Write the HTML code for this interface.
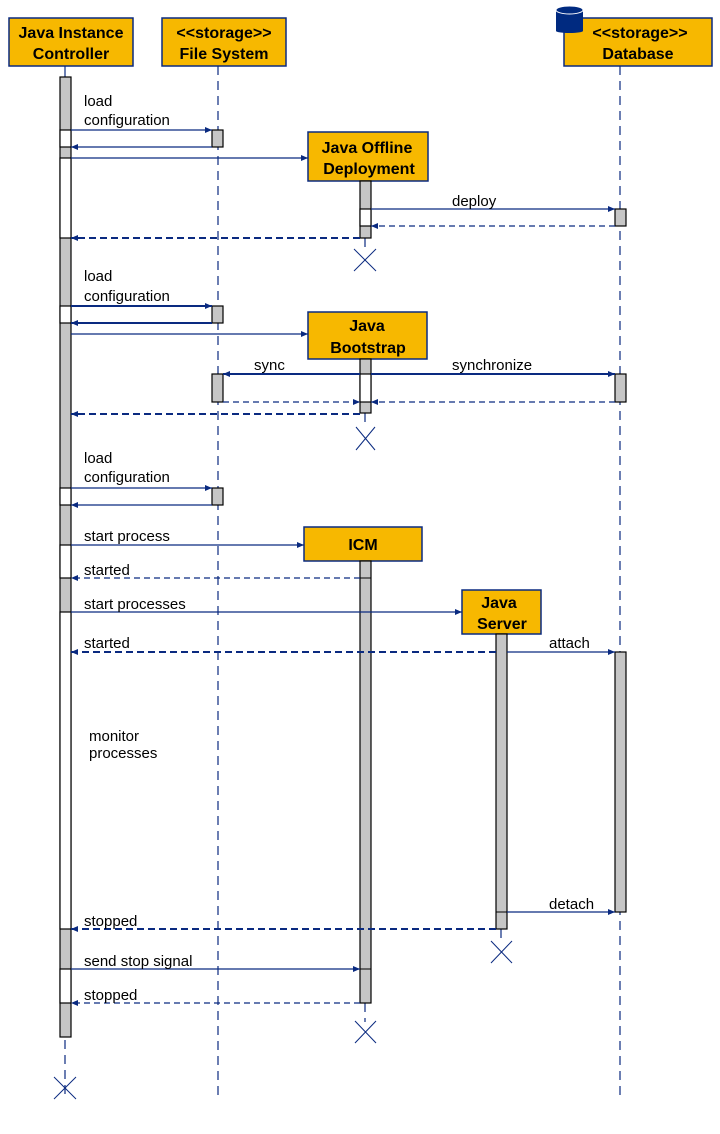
<!DOCTYPE html>
<html><head><meta charset="utf-8"><style>
html,body{margin:0;padding:0;background:#fff;}
svg{display:block;font-family:"Liberation Sans",Arial,sans-serif;}
.h{font-weight:bold;font-size:16px;text-anchor:middle;fill:#000;}
.l{font-size:15px;fill:#000;}
.box{fill:#f7b800;stroke:#0a2a80;stroke-width:1.5;}
.ll{stroke:#0a2a80;stroke-width:1.2;stroke-dasharray:9,6;fill:none;}
.ag{fill:#c6c6c6;stroke:#000;stroke-width:1.2;}
.aw{fill:#fff;stroke:#000;stroke-width:1.2;}
.m{stroke:#0a2a80;stroke-width:1.3;fill:none;}
.mt{stroke:#0a2a80;stroke-width:2;fill:none;}
.d{stroke:#0a2a80;stroke-width:1.3;stroke-dasharray:6,4;fill:none;}
.dt{stroke:#0a2a80;stroke-width:2;stroke-dasharray:7,4;fill:none;}
.x{stroke:#0a2a80;stroke-width:1;}
</style></head><body>
<svg width="720" height="1134" viewBox="0 0 720 1134" xmlns="http://www.w3.org/2000/svg">
<defs>
<marker id="a" markerWidth="8" markerHeight="8" refX="7" refY="4" orient="auto" markerUnits="userSpaceOnUse"><path d="M0,1 L7,4 L0,7 z" fill="#0a2a80"/></marker>
</defs>
<!-- lifelines -->
<line class="ll" x1="65" y1="1040" x2="65" y2="1100"/>
<line x1="65" y1="66" x2="65" y2="77" stroke="#0a2a80" stroke-width="1.2"/>
<line class="ll" x1="218" y1="66" x2="218" y2="1100"/>
<line class="ll" x1="620" y1="66" x2="620" y2="1100"/>
<line class="ll" x1="365" y1="238" x2="365" y2="250"/>
<line class="ll" x1="365" y1="413" x2="365" y2="428"/>
<line class="ll" x1="365" y1="1003" x2="365" y2="1022"/>
<line class="ll" x1="501" y1="929" x2="501" y2="944"/>

<!-- headers -->
<rect class="box" x="9" y="18" width="124" height="48"/>
<text class="h" x="71" y="38">Java Instance</text><text class="h" x="71" y="59">Controller</text>
<rect class="box" x="162" y="18" width="124" height="48"/>
<text class="h" x="224" y="38">&lt;&lt;storage&gt;&gt;</text><text class="h" x="224" y="59">File System</text>
<rect class="box" x="564" y="18" width="148" height="48"/>
<text class="h" x="640" y="38">&lt;&lt;storage&gt;&gt;</text><text class="h" x="638" y="59">Database</text>
<rect x="556" y="10" width="27" height="21" fill="#002a80"/>
<ellipse cx="569.5" cy="31" rx="13.5" ry="2" fill="#002a80"/>
<ellipse cx="569.5" cy="10" rx="13.5" ry="4" fill="#002a80" stroke="#fff" stroke-width="1"/>

<!-- JIC activation -->
<rect class="ag" x="60" y="77" width="11" height="960"/>
<rect class="aw" x="60" y="130" width="11" height="17"/>
<rect class="aw" x="60" y="158" width="11" height="80"/>
<rect class="aw" x="60" y="306" width="11" height="17"/>
<rect class="aw" x="60" y="488" width="11" height="17"/>
<rect class="aw" x="60" y="545" width="11" height="33"/>
<rect class="aw" x="60" y="612" width="11" height="317"/>
<rect class="aw" x="60" y="969" width="11" height="34"/>

<!-- FS activations -->
<rect class="ag" x="212" y="130" width="11" height="17"/>
<rect class="ag" x="212" y="306" width="11" height="17"/>
<rect class="ag" x="212" y="374" width="11" height="28"/>
<rect class="ag" x="212" y="488" width="11" height="17"/>

<!-- JOD -->
<rect class="box" x="308" y="132" width="120" height="49"/>
<text class="h" x="367" y="153">Java Offline</text><text class="h" x="369" y="174">Deployment</text>
<rect class="ag" x="360" y="181" width="11" height="57"/>
<rect class="aw" x="360" y="209" width="11" height="17"/>
<rect class="ag" x="615" y="209" width="11" height="17"/>
<line class="x" x1="354" y1="249" x2="376" y2="271"/><line class="x" x1="376" y1="249" x2="354" y2="271"/>

<!-- Bootstrap -->
<rect class="box" x="308" y="312" width="119" height="47"/>
<text class="h" x="367" y="331">Java</text><text class="h" x="368" y="353">Bootstrap</text>
<rect class="ag" x="360" y="359" width="11" height="54"/>
<rect class="aw" x="360" y="374" width="11" height="28"/>
<rect class="ag" x="615" y="374" width="11" height="28"/>
<line class="x" x1="356" y1="427" x2="375" y2="450"/><line class="x" x1="375" y1="427" x2="356" y2="450"/>

<!-- ICM -->
<rect class="box" x="304" y="527" width="118" height="34"/>
<text class="h" x="363" y="550">ICM</text>
<rect class="ag" x="360" y="561" width="11" height="442"/>
<line x1="360" y1="578" x2="371" y2="578" stroke="#000" stroke-width="1"/>
<line x1="360" y1="969" x2="371" y2="969" stroke="#000" stroke-width="1"/>
<line class="x" x1="355" y1="1021" x2="376" y2="1043"/><line class="x" x1="376" y1="1021" x2="355" y2="1043"/>

<!-- Java Server -->
<rect class="box" x="462" y="590" width="79" height="44"/>
<text class="h" x="499" y="608">Java</text><text class="h" x="502" y="629">Server</text>
<rect class="ag" x="496" y="634" width="11" height="295"/>
<line x1="496" y1="912" x2="507" y2="912" stroke="#000" stroke-width="1"/>
<rect class="ag" x="615" y="652" width="11" height="260"/>
<line class="x" x1="491" y1="941" x2="512" y2="963"/><line class="x" x1="512" y1="941" x2="491" y2="963"/>

<!-- JIC X -->
<line class="x" x1="54" y1="1077" x2="76" y2="1099"/><line class="x" x1="76" y1="1077" x2="54" y2="1099"/>

<!-- messages -->
<line class="m" x1="71" y1="130" x2="212" y2="130" marker-end="url(#a)"/>
<line class="m" x1="212" y1="147" x2="71" y2="147" marker-end="url(#a)"/>
<line class="m" x1="71" y1="158" x2="308" y2="158" marker-end="url(#a)"/>
<line class="m" x1="371" y1="209" x2="615" y2="209" marker-end="url(#a)"/>
<line class="d" x1="615" y1="226" x2="371" y2="226" marker-end="url(#a)"/>
<line class="dt" x1="360" y1="238" x2="71" y2="238" marker-end="url(#a)"/>

<line class="mt" x1="71" y1="306" x2="212" y2="306" marker-end="url(#a)"/>
<line class="mt" x1="212" y1="323" x2="71" y2="323" marker-end="url(#a)"/>
<line class="m" x1="71" y1="334" x2="308" y2="334" marker-end="url(#a)"/>
<line class="mt" x1="360" y1="374" x2="223" y2="374" marker-end="url(#a)"/>
<line class="mt" x1="371" y1="374" x2="615" y2="374" marker-end="url(#a)"/>
<line class="d" x1="223" y1="402" x2="360" y2="402" marker-end="url(#a)"/>
<line class="d" x1="615" y1="402" x2="371" y2="402" marker-end="url(#a)"/>
<line class="dt" x1="360" y1="414" x2="71" y2="414" marker-end="url(#a)"/>

<line class="m" x1="71" y1="488" x2="212" y2="488" marker-end="url(#a)"/>
<line class="m" x1="212" y1="505" x2="71" y2="505" marker-end="url(#a)"/>
<line class="m" x1="71" y1="545" x2="304" y2="545" marker-end="url(#a)"/>
<line class="d" x1="360" y1="578" x2="71" y2="578" marker-end="url(#a)"/>
<line class="m" x1="71" y1="612" x2="462" y2="612" marker-end="url(#a)"/>
<line class="dt" x1="496" y1="652" x2="71" y2="652" marker-end="url(#a)"/>
<line class="m" x1="507" y1="652" x2="615" y2="652" marker-end="url(#a)"/>
<line class="m" x1="507" y1="912" x2="615" y2="912" marker-end="url(#a)"/>
<line class="dt" x1="496" y1="929" x2="71" y2="929" marker-end="url(#a)"/>
<line class="m" x1="71" y1="969" x2="360" y2="969" marker-end="url(#a)"/>
<line class="d" x1="360" y1="1003" x2="71" y2="1003" marker-end="url(#a)"/>

<!-- labels -->
<text class="l" x="84" y="106">load</text><text class="l" x="84" y="125">configuration</text>
<text class="l" x="452" y="206">deploy</text>
<text class="l" x="84" y="281">load</text><text class="l" x="84" y="301">configuration</text>
<text class="l" x="254" y="370">sync</text>
<text class="l" x="452" y="370">synchronize</text>
<text class="l" x="84" y="463">load</text><text class="l" x="84" y="482">configuration</text>
<text class="l" x="84" y="541">start process</text>
<text class="l" x="84" y="575">started</text>
<text class="l" x="84" y="609">start processes</text>
<text class="l" x="84" y="648">started</text>
<text class="l" x="549" y="648">attach</text>
<text class="l" x="89" y="741">monitor</text><text class="l" x="89" y="758">processes</text>
<text class="l" x="549" y="909">detach</text>
<text class="l" x="84" y="926">stopped</text>
<text class="l" x="84" y="966">send stop signal</text>
<text class="l" x="84" y="1000">stopped</text>
</svg>
</body></html>
